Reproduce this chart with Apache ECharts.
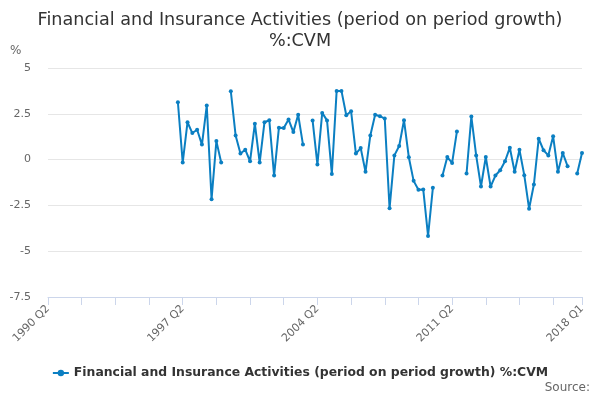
<!DOCTYPE html>
<html>
<head>
<meta charset="utf-8">
<script src="https://cdn.jsdelivr.net/npm/echarts@6/dist/echarts.min.js"></script>
<style>
  html, body { margin: 0; padding: 0; background: #fff; }
  #chart { width: 600px; height: 400px; }
</style>
</head>
<body>
<div id="chart"></div>
<script>
// quarters from 1990 Q2 to 2018 Q1
const startYear = 1990
const startQuarter = 2
const quarterCount = 112

// growth values, null where the series has no value
const growth = [
  null, null, null, null, null, null, null, null, null, null,
  null, null, null, null, null, null, null, null, null, null,
  null, null, null, null, null, null, null,
  3.13, -0.16, 2.04, 1.45, 1.63, 0.82, 2.95, -2.16, 1.01, -0.16,
  null,
  3.73, 1.32, 0.33, 0.54, -0.09, 1.96, -0.16, 2.04, 2.15, -0.87,
  1.74, 1.72, 2.19, 1.5, 2.45, 0.82,
  null,
  2.14, -0.27, 2.55, 2.14, -0.78, 3.75, 3.75, 2.42, 2.64, 0.33,
  0.63, -0.67, 1.32, 2.45, 2.37, 2.24, -2.66, 0.23, 0.74, 2.15,
  0.13, -1.16, -1.65, -1.63, -4.17, -1.54,
  null,
  -0.87, 0.14, -0.18, 1.54,
  null,
  -0.76, 2.35, 0.23, -1.47, 0.14, -1.47, -0.87, -0.58, -0.09, 0.65,
  -0.67, 0.54, -0.85, -2.68, -1.36, 1.14, 0.51, 0.23, 1.27, -0.67,
  0.36, -0.36,
  null,
  -0.76, 0.36
]

const yTicks = [-7.5, -5, -2.5, 0, 2.5, 5]
const seriesName = 'Financial and Insurance Activities (period on period growth) %:CVM'

let quarters = []
for (let i = 0; i < quarterCount; i++) {
  let q = startQuarter - 1 + i
  quarters.push((startYear + Math.floor(q / 4)) + ' Q' + (q % 4 + 1))
}

const lastIdx = quarters.length - 1
const font = 'DejaVu Sans'
const lineColor = '#0b7fc2'

let chart = echarts.init(document.getElementById('chart'), null, { renderer: 'canvas' })
let option = {
  animation: false,
  textStyle: { fontFamily: font },
  title: {
    text: 'Financial and Insurance Activities (period on period growth)\n%:CVM',
    left: 'center',
    top: 5,
    textStyle: { fontFamily: font, fontSize: 17.6, fontWeight: 'normal', color: '#333', lineHeight: 21 }
  },
  graphic: [
    { type: 'text', left: 10, top: 45, style: { text: '%', fontFamily: font, fontSize: 12, fill: '#666' } },
    { type: 'text', right: 10, top: 382, style: { text: 'Source:', fontFamily: font, fontSize: 12, fill: '#666' } }
  ],
  legend: {
    bottom: 16,
    left: 'center',
    itemWidth: 16,
    itemHeight: 8,
    textStyle: { fontFamily: font, fontSize: 12.4, fontWeight: 'bold', color: '#333' },
    data: [seriesName]
  },
  grid: { left: 48, right: 18, top: 68, bottom: 103 },
  xAxis: {
    type: 'category',
    data: quarters,
    boundaryGap: false,
    axisLine: { onZero: false, lineStyle: { color: '#ccd6eb' } },
    axisTick: {
      length: 8,
      interval: (i) => i % 7 === 0 || i === lastIdx,
      lineStyle: { color: '#ccd6eb' }
    },
    axisLabel: {
      rotate: 45,
      interval: (i) => i % 28 === 0 || i === lastIdx,
      color: '#666',
      fontSize: 11,
      fontFamily: font,
      margin: 10
    },
    splitLine: { show: false }
  },
  yAxis: {
    type: 'value',
    min: yTicks[0],
    max: yTicks[yTicks.length - 1],
    interval: 2.5,
    axisLine: { show: false },
    axisTick: { show: false },
    axisLabel: { color: '#666', fontSize: 11, fontFamily: font, margin: 17 },
    splitLine: { lineStyle: { color: '#e6e6e6' } }
  },
  series: [
    {
      name: seriesName,
      type: 'line',
      data: growth,
      connectNulls: false,
      showAllSymbol: true,
      symbol: 'circle',
      symbolSize: 4,
      lineStyle: { width: 2, color: lineColor },
      itemStyle: { color: lineColor }
    }
  ]
}
chart.setOption(option)
</script>
</body>
</html>
